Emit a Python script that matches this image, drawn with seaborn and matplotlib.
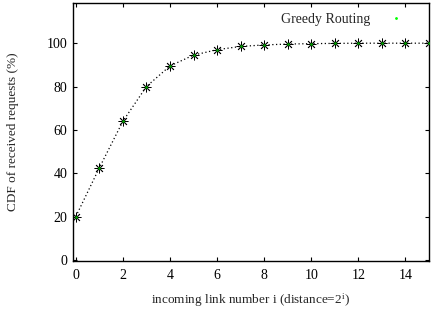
import numpy as np
import pandas as pd
import seaborn as sns
import matplotlib
matplotlib.use("Agg")
import matplotlib.pyplot as plt
from matplotlib.lines import Line2D

# data
link_number = [0, 1, 2, 3, 4, 5, 6, 7, 8, 9, 10, 11, 12, 13, 14, 15]
cdf_received = [20, 42.5, 64, 80, 89.5, 94.5, 97, 98.5, 99.2, 99.6, 99.8, 99.9, 100, 100, 100, 100]
series_name = "Greedy Routing"
x_ticks = [0, 2, 4, 6, 8, 10, 12, 14]
y_ticks = [0, 20, 40, 60, 80, 100]

sns.set_theme(style="ticks")
plt.rcParams['font.family'] = ['Liberation Serif', 'DejaVu Serif']
plt.rcParams['mathtext.fontset'] = 'stix'

df = pd.DataFrame({'link': link_number, 'cdf': cdf_received})

fig = plt.figure(figsize=(4.32, 3.11), dpi=100)
ax = fig.add_axes([0.169, 0.161, 0.824, 0.829])

# dotted line with asterisk markers (gnuplot style)
sns.lineplot(data=df, x='link', y='cdf', ax=ax, color='black', linestyle=(0, (1, 2)),
             linewidth=0.9, marker=(8, 2, 0), markersize=7, markeredgewidth=0.6,
             markeredgecolor='black', legend=False)
# small green dot in the middle of each point
sns.scatterplot(data=df, x='link', y='cdf', ax=ax, color='#00a000', s=4,
                linewidth=0, zorder=5, legend=False)

ax.set_xlim(-0.12, 15)
ax.set_ylim(-0.5, 118.5)
ax.set_xticks(x_ticks)
ax.set_yticks(y_ticks)
ax.tick_params(direction='in', length=3, width=0.8, top=True, right=True,
               labelsize=10, pad=6, colors='black')
ax.tick_params(axis='y', pad=4)
for s in ax.spines.values():
    s.set_linewidth(1.0)
    s.set_color('black')

ax.set_xlabel('incoming link number i (distance=2$^\\mathregular{i}$)', fontsize=9.5, labelpad=7)
ax.set_ylabel('CDF of received requests (%)', fontsize=9.5, labelpad=20)

handle = Line2D([], [], color='#00ff00', marker='.', markersize=2, linestyle='none')
ax.legend([handle], [series_name], loc='upper right', frameon=False, markerfirst=False,
          fontsize=10, handlelength=1.5, handletextpad=1.15, borderaxespad=0.3,
          bbox_to_anchor=(0.965, 1.0))

fig.savefig('out.png', dpi=100)
